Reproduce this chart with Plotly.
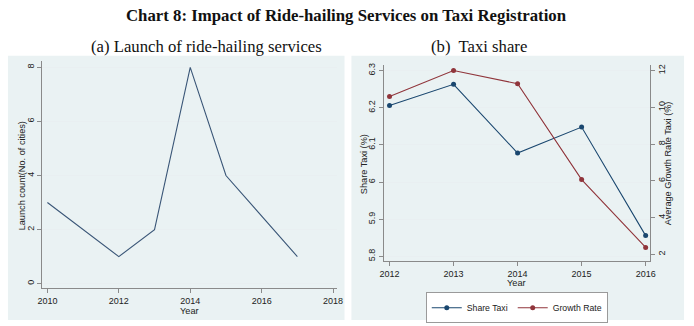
import plotly.graph_objects as go

W, H = 694, 326

# ---- data ----
launch_years = [2010, 2012, 2013, 2014, 2015, 2017]
launch_counts = [3, 1, 2, 8, 4, 1]

taxi_years = [2012, 2013, 2014, 2015, 2016]
share_taxi = [6.206, 6.263, 6.078, 6.148, 5.856]
growth_rate = [10.58, 12.0, 11.28, 6.07, 2.38]

left_xticks = [2010, 2012, 2014, 2016, 2018]
left_yticks = [0, 2, 4, 6, 8]
share_ticks = [5.8, 5.9, 6.0, 6.1, 6.2, 6.3]
share_ticktext = ["5.8", "5.9", "6", "6.1", "6.2", "6.3"]
growth_ticks = [2, 4, 6, 8, 10, 12]


def px_x(p):
    return p / W


def px_y(p):
    return 1 - p / H


NAVY = "#1a476f"
MAROON = "#90353b"
AXIS = "#8a8a8a"
GRID = "#e9eff1"
PANEL = "#eaf2f3"
TXT = "#222222"
SANS = "Liberation Sans, Arial, sans-serif"
SERIF = "Liberation Serif, Times New Roman, serif"
FS = 9
FT = 9.2

fig = go.Figure()

fig.add_trace(go.Scatter(x=launch_years, y=launch_counts, mode="lines",
                         line=dict(color="#3a5677", width=1.1),
                         xaxis="x", yaxis="y", showlegend=False))
fig.add_trace(go.Scatter(x=taxi_years, y=share_taxi, mode="lines+markers",
                         name="Share Taxi",
                         line=dict(color=NAVY, width=1.1),
                         marker=dict(color=NAVY, size=5),
                         xaxis="x2", yaxis="y2"))
fig.add_trace(go.Scatter(x=taxi_years, y=growth_rate, mode="lines+markers",
                         name="Growth Rate",
                         line=dict(color=MAROON, width=1.1),
                         marker=dict(color=MAROON, size=5),
                         xaxis="x2", yaxis="y3"))

common = dict(showline=True, linecolor=AXIS, linewidth=1, ticks="outside",
              ticklen=4, tickcolor=AXIS, tickwidth=1, zeroline=False,
              tickfont=dict(family=SANS, size=FS, color=TXT))

fig.update_layout(
    width=W, height=H,
    margin=dict(l=0, r=0, t=0, b=0),
    paper_bgcolor="white",
    plot_bgcolor="white",
    xaxis=dict(domain=[px_x(38), px_x(337)], range=[2009.86, 2018.10],
               tickvals=left_xticks, showgrid=False, anchor="y", **common),
    yaxis=dict(domain=[px_y(288), px_y(59)], range=[-0.17, 8.25],
               tickvals=left_yticks, tickangle=-90, showgrid=True,
               gridcolor=GRID, gridwidth=1, anchor="x", **common),
    xaxis2=dict(domain=[px_x(385), px_x(655)], range=[2011.912, 2016.062],
                tickvals=taxi_years, showgrid=False, anchor="y2", **common),
    yaxis2=dict(domain=[px_y(261), px_y(63)], range=[5.7866, 6.316],
                tickvals=share_ticks, ticktext=share_ticktext, tickangle=-90,
                showgrid=True, gridcolor=GRID, gridwidth=1, anchor="x2",
                **common),
    yaxis3=dict(domain=[px_y(261), px_y(63)], range=[1.62, 12.32],
                tickvals=growth_ticks, tickangle=-90, showgrid=False,
                overlaying="y2", side="right", anchor="x2", **common),
    legend=dict(orientation="h", x=px_x(520), xanchor="center",
                y=px_y(292), yanchor="top", bgcolor="white",
                bordercolor="#9a9a9a", borderwidth=1,
                font=dict(family=SANS, size=8.7, color=TXT),
                itemwidth=30, tracegroupgap=0),
    shapes=[
        dict(type="rect", xref="paper", yref="paper", layer="below",
             x0=px_x(3), x1=px_x(345), y0=px_y(320), y1=px_y(54),
             fillcolor=PANEL, line=dict(width=0)),
        dict(type="rect", xref="paper", yref="paper", layer="below",
             x0=px_x(352), x1=px_x(690), y0=px_y(320), y1=px_y(54),
             fillcolor=PANEL, line=dict(width=0)),
    ],
)


def ann(text, x, y, size=FT, family=SANS, angle=0, color=TXT):
    fig.add_annotation(text=text, x=px_x(x), y=px_y(y), xref="paper",
                       yref="paper", showarrow=False, textangle=angle,
                       xanchor="center", yanchor="middle",
                       font=dict(family=family, size=size, color=color))


ann("<b>Chart 8: Impact of Ride-hailing Services on Taxi Registration</b>",
    347, 13.5, size=16.8, family=SERIF, color="#111111")
ann("(a) Launch of ride-hailing services", 205, 45, size=16.7, family=SERIF,
    color="#111111")
ann("(b)  Taxi share", 482, 45, size=16.7, family=SERIF, color="#111111")

ann("Year", 187.5, 311)
ann("Launch count(No. of cities)", 16.7, 175, angle=-90)
ann("Year", 520, 283)
ann("Share Taxi (%)", 365, 163, angle=-90)
ann("Average Growth Rate Taxi (%)", 674, 162, angle=-90)

fig.write_html("out.html")
